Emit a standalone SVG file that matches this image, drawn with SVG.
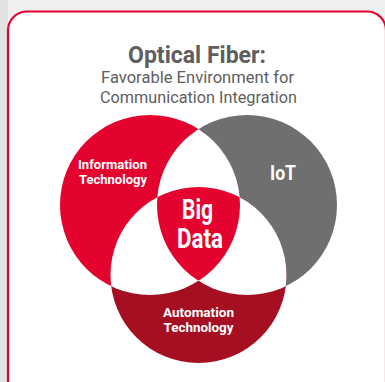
<svg xmlns="http://www.w3.org/2000/svg" width="385" height="382" viewBox="0 0 385 382">
  <defs>
    <clipPath id="cRed"><circle cx="150" cy="205" r="90"/></clipPath>
    <clipPath id="cGray"><circle cx="247" cy="205" r="90"/></clipPath>
  </defs>
  <style>
    .title{font-family:Roboto,"Liberation Sans",sans-serif;fill:#5e5e5e;text-anchor:middle}
    .lbl{font-family:Roboto,"Liberation Sans",sans-serif;font-weight:bold;fill:#ffffff;text-anchor:middle}
  </style>
  <rect x="0" y="0" width="385" height="382" fill="#efefef"/>
  <rect x="0" y="0" width="8" height="382" fill="#e2e2e2"/>
  <rect id="card" x="8" y="11.5" width="378" height="390" rx="19" fill="#ffffff" stroke="#e3032e" stroke-width="2.2"/>

  <g id="title">
    <text class="title" x="197" y="63" font-size="24" font-weight="bold" textLength="138" lengthAdjust="spacingAndGlyphs">Optical Fiber:</text>
    <text class="title" x="197.5" y="82.5" font-size="17" textLength="193" lengthAdjust="spacingAndGlyphs">Favorable Environment for</text>
    <text class="title" x="198.5" y="103" font-size="17" textLength="197" lengthAdjust="spacingAndGlyphs">Communication Integration</text>
  </g>

  <g id="info-tech">
    <circle cx="150" cy="205" r="90" fill="#e3032e"/>
  </g>
  <g id="iot">
    <circle cx="247" cy="205" r="90" fill="#6f6f6f"/>
  </g>
  <g id="automation">
    <circle cx="198.5" cy="275" r="88" fill="#a60f21"/>
  </g>
  <g id="overlaps">
    <g clip-path="url(#cRed)"><circle cx="247" cy="205" r="90" fill="#ffffff"/><circle cx="198.5" cy="275" r="88" fill="#ffffff"/></g>
    <g clip-path="url(#cGray)"><circle cx="198.5" cy="275" r="88" fill="#ffffff"/></g>
  </g>
  <g id="big-data">
    <g clip-path="url(#cRed)"><g clip-path="url(#cGray)"><circle cx="198.5" cy="275" r="88" fill="#e3032e"/></g></g>
  </g>

  <g id="labels">
    <text class="lbl" x="112.5" y="169" font-size="13.5" textLength="69" lengthAdjust="spacingAndGlyphs">Information</text>
    <text class="lbl" x="113" y="184" font-size="13.5" textLength="68" lengthAdjust="spacingAndGlyphs">Technology</text>
    <text class="lbl" x="283" y="180" font-size="20" textLength="26" lengthAdjust="spacingAndGlyphs">IoT</text>
    <text class="lbl" x="197.5" y="219" font-size="27" textLength="31" lengthAdjust="spacingAndGlyphs">Big</text>
    <text class="lbl" x="200" y="248" font-size="27" textLength="46" lengthAdjust="spacingAndGlyphs">Data</text>
    <text class="lbl" x="198.5" y="317" font-size="13.5" textLength="71" lengthAdjust="spacingAndGlyphs">Automation</text>
    <text class="lbl" x="198.5" y="332" font-size="13.5" textLength="70" lengthAdjust="spacingAndGlyphs">Technology</text>
  </g>
</svg>
